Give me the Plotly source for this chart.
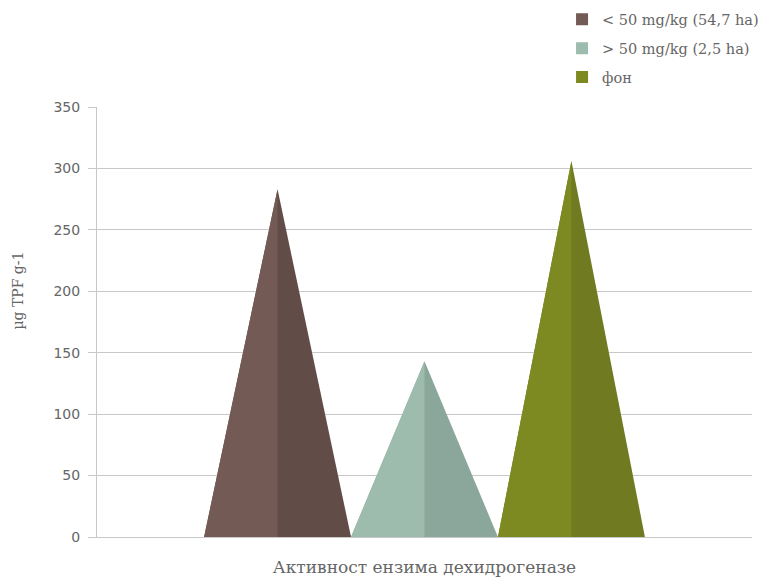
import plotly.graph_objects as go

series_names = ["< 50 mg/kg (54,7 ha)", "> 50 mg/kg (2,5 ha)", "фон"]
values = [283, 143, 306]
colors_light = ["#745a55", "#9dbcad", "#7d8a22"]
colors_dark = ["#624c47", "#8ba69a", "#6f7a21"]
category = "Активност ензима дехидрогеназе"
y_ticks = [0, 50, 100, 150, 200, 250, 300, 350]

group_width = 0.673
n = len(values)
w = group_width / n

fig = go.Figure()
for i, (name, v) in enumerate(zip(series_names, values)):
    c = -group_width / 2 + w * (i + 0.5)
    fig.add_trace(go.Scatter(
        x=[c - w / 2, c, c + w / 2, c - w / 2], y=[0, v, 0, 0],
        fill="toself", mode="lines", line=dict(width=0),
        fillcolor=colors_dark[i], showlegend=False, hoverinfo="skip"))
    fig.add_trace(go.Scatter(
        x=[c - w / 2, c, c, c - w / 2], y=[0, v, 0, 0],
        fill="toself", mode="lines", line=dict(width=0),
        fillcolor=colors_light[i], showlegend=False, hoverinfo="skip"))
for i, name in enumerate(series_names):
    fig.add_trace(go.Scatter(
        x=[None], y=[None], mode="markers", name=name, legendgroup=f"g{i}",
        marker=dict(symbol="square", size=12, color=colors_light[i])))

fig.update_layout(
    width=762, height=580,
    margin=dict(l=97, r=10, t=107, b=43, autoexpand=False),
    paper_bgcolor="white", plot_bgcolor="white",
    showlegend=True,
    legend=dict(x=0.71, y=1.241, xanchor="left", yanchor="top",
                font=dict(family="DejaVu Serif", size=14.5, color="#666"),
                itemsizing="constant", itemwidth=30, tracegroupgap=7,
                bgcolor="rgba(0,0,0,0)"),
    xaxis=dict(range=[-0.5, 0.5], showticklabels=False, showgrid=False,
               zeroline=False, showline=True, linecolor="#c8c8c8", linewidth=1,
               ticks="", fixedrange=True,
               title=dict(text=category, standoff=24,
                          font=dict(family="DejaVu Serif", size=17, color="#666"))),
    yaxis=dict(range=[0, 350], tickvals=y_ticks, showgrid=True, gridcolor="#c8c8c8",
               gridwidth=1, zeroline=False, showline=True, linecolor="#c8c8c8",
               ticks="outside", ticklen=8, tickcolor="#c8c8c8", ticklabelstandoff=5,
               tickfont=dict(family="DejaVu Sans", size=14, color="#666")),
    annotations=[dict(text="µg TPF g-1", xref="paper", yref="paper",
                      x=-0.12, y=0.574, textangle=-90, showarrow=False,
                      xanchor="center", yanchor="middle",
                      font=dict(family="DejaVu Serif", size=14, color="#666"))],
)

fig.write_html("out.html")
